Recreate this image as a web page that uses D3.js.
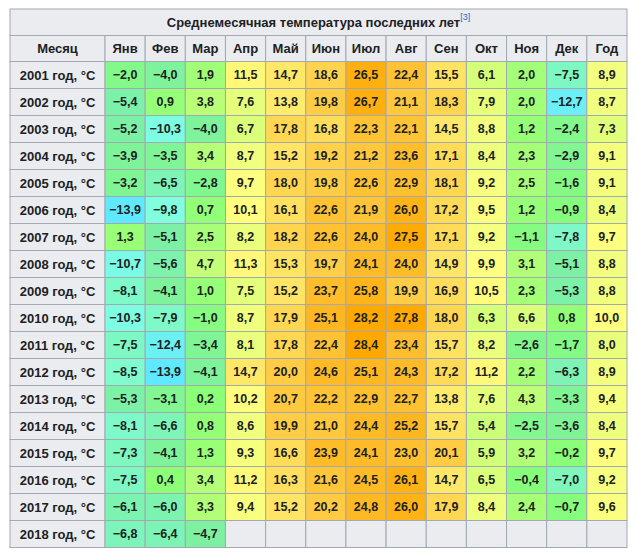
<!DOCTYPE html>
<html><head><meta charset="utf-8">
<script src="https://cdn.jsdelivr.net/npm/d3@7"></script>
<style>body{margin:0;background:#fff;font-family:"Liberation Sans",Arial,sans-serif;}</style>
</head><body>
<script>
var title = "Среднемесячная температура последних лет";
var months = ["Янв","Фев","Мар","Апр","Май","Июн","Июл","Авг","Сен","Окт","Ноя","Дек","Год"];
var years = ["2001","2002","2003","2004","2005","2006","2007","2008","2009","2010","2011","2012","2013","2014","2015","2016","2017","2018"];
var temps = [
  [-2.0,-4.0,1.9,11.5,14.7,18.6,26.5,22.4,15.5,6.1,2.0,-7.5,8.9],
  [-5.4,0.9,3.8,7.6,13.8,19.8,26.7,21.1,18.3,7.9,2.0,-12.7,8.7],
  [-5.2,-10.3,-4.0,6.7,17.8,16.8,22.3,22.1,14.5,8.8,1.2,-2.4,7.3],
  [-3.9,-3.5,3.4,8.7,15.2,19.2,21.2,23.6,17.1,8.4,2.3,-2.9,9.1],
  [-3.2,-6.5,-2.8,9.7,18.0,19.8,22.6,22.9,18.1,9.2,2.5,-1.6,9.1],
  [-13.9,-9.8,0.7,10.1,16.1,22.6,21.9,26.0,17.2,9.5,1.2,-0.9,8.4],
  [1.3,-5.1,2.5,8.2,18.2,22.6,24.0,27.5,17.1,9.2,-1.1,-7.8,9.7],
  [-10.7,-5.6,4.7,11.3,15.3,19.7,24.1,24.0,14.9,9.9,3.1,-5.1,8.8],
  [-8.1,-4.1,1.0,7.5,15.2,23.7,25.8,19.9,16.9,10.5,2.3,-5.3,8.8],
  [-10.3,-7.9,-1.0,8.7,17.9,25.1,28.2,27.8,18.0,6.3,6.6,0.8,10.0],
  [-7.5,-12.4,-3.4,8.1,17.8,22.4,28.4,23.4,15.7,8.2,-2.6,-1.7,8.0],
  [-8.5,-13.9,-4.1,14.7,20.0,24.6,25.1,24.3,17.2,11.2,2.2,-6.3,8.9],
  [-5.3,-3.1,0.2,10.2,20.7,22.2,22.9,22.7,13.8,7.6,4.3,-3.3,9.4],
  [-8.1,-6.6,0.8,8.6,19.9,21.0,24.4,25.2,15.7,5.4,-2.5,-3.6,8.4],
  [-7.3,-4.1,1.3,9.3,16.6,23.9,24.1,23.0,20.1,5.9,3.2,-0.2,9.7],
  [-7.5,0.4,3.4,11.2,16.3,21.6,24.5,26.1,14.7,6.5,-0.4,-7.0,9.2],
  [-6.1,-6.0,3.3,9.4,15.2,20.2,24.8,26.0,17.9,8.4,2.4,-0.7,9.6],
  [-6.8,-6.4,-4.7,null,null,null,null,null,null,null,null,null,null]
];
var colStops = [-14,-10,-5,0,5,10,15,20,25,28];
var colColors = ["#5ee8ff","#80ffe0","#7cf0a4","#88ff77","#c8ff77","#ffff80","#ffe566","#ffcc44","#ffb822","#ffa800"];

(function () {
  var left = 10, right = 627, labelW = 95, top0 = 9, titleH = 26.5, headH = 26, rowH = 27;
  var W = 637, H = 557;
  var svg = d3.select("body").append("svg").attr("width", W).attr("height", H);
  var color = d3.scaleLinear().domain(colStops).range(colColors).clamp(true);
  var x = d3.scaleBand().domain(months).range([left + labelW, right]);
  var y = d3.scaleBand().domain(years).range([top0 + titleH + headH, top0 + titleH + headH + rowH * years.length]);
  var border = "#a2a9b1", gray = "#eaecf0";

  function cell(x0, y0, w, h, fill) {
    svg.append("rect").attr("x", x0).attr("y", y0).attr("width", w).attr("height", h)
      .attr("fill", fill).attr("stroke", border).attr("stroke-width", 1);
  }
  function txt(tx, ty, s, size) {
    return svg.append("text").attr("x", tx).attr("y", ty).attr("text-anchor", "middle")
      .attr("dominant-baseline", "central").attr("font-weight", "bold")
      .attr("font-size", size || 13).attr("fill", "#202122").text(s);
  }

  // title
  cell(left, top0, right - left, titleH, gray);
  var t = txt((left + right) / 2, top0 + titleH / 2, title);
  t.append("tspan").attr("font-size", 9).attr("font-weight", "normal").attr("fill", "#3366cc")
    .attr("dy", -5).text("[3]");

  // header
  var hy = top0 + titleH;
  cell(left, hy, labelW, headH, gray);
  txt(left + labelW / 2, hy + headH / 2, "Месяц");
  months.forEach(function (m) {
    cell(x(m), hy, x.bandwidth(), headH, gray);
    txt(x(m) + x.bandwidth() / 2, hy + headH / 2, m);
  });

  // rows
  var fmt = function (v) { return v.toFixed(1).replace(".", ",").replace("-", "\u2212"); };
  years.forEach(function (yr, i) {
    cell(left, y(yr), labelW, rowH, gray);
    txt(left + labelW / 2, y(yr) + rowH / 2, yr + " год, °C");
    months.forEach(function (m, j) {
      var v = temps[i][j];
      cell(x(m), y(yr), x.bandwidth(), rowH, v == null ? gray : color(v));
      if (v != null) txt(x(m) + x.bandwidth() / 2, y(yr) + rowH / 2, fmt(v), 12.5);
    });
  });
})();
</script>
</body></html>
